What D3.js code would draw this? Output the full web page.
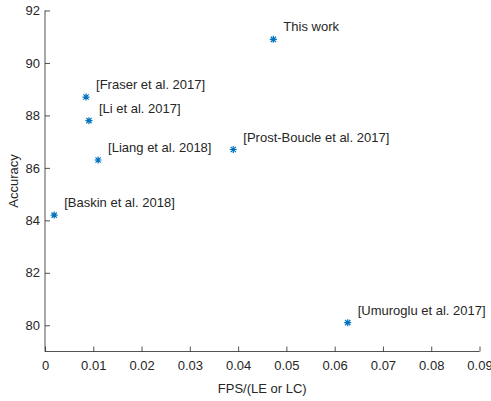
<!DOCTYPE html>
<html>
<head>
<meta charset="utf-8">
<script src="https://cdn.jsdelivr.net/npm/d3@7"></script>
<style>
  body { margin: 0; background: #fff; }
  text { font-family: "Liberation Sans", Arial, sans-serif; fill: #262626; }
  .axis path, .axis line { stroke: #262626; stroke-width: 0.8; }
  .axis text { font-size: 13px; }
  .lbl { font-size: 13px; }
</style>
</head>
<body>
<script>
const names = ['This work', '[Fraser et al. 2017]', '[Li et al. 2017]', '[Liang et al. 2018]',
  '[Prost-Boucle et al. 2017]', '[Baskin et al. 2018]', '[Umuroglu et al. 2017]'];
const fps = [0.0473, 0.0085, 0.0091, 0.0110, 0.0390, 0.0019, 0.0627];
const accuracy = [90.9, 88.7, 87.8, 86.3, 86.7, 84.2, 80.1];
const xTicks = [0, 0.01, 0.02, 0.03, 0.04, 0.05, 0.06, 0.07, 0.08, 0.09];
const yTicks = [80, 82, 84, 86, 88, 90, 92];

const W = 491, H = 401;
const svg = d3.select('body').append('svg').attr('width', W).attr('height', H);

const x = d3.scaleLinear().domain([0, 0.09]).range([45, 479.5]);
const y = d3.scaleLinear().domain([79, 92]).range([351.5, 10.5]);

svg.append('g')
  .attr('class', 'axis')
  .attr('transform', `translate(0,${y(79)})`)
  .call(d3.axisBottom(x).tickValues(xTicks).tickSize(-5).tickPadding(9)
    .tickFormat(d => d === 0 ? '0' : d3.format('.2f')(d)))
  .call(g => g.select('.domain').attr('d', `M${x(0)},0H${x(0.09)}`));

svg.append('g')
  .attr('class', 'axis')
  .attr('transform', `translate(${x(0)},0)`)
  .call(d3.axisLeft(y).tickValues(yTicks).tickSize(-5).tickPadding(5))
  .call(g => g.select('.domain').attr('d', `M0,${y(79)}V${y(92)}`));

svg.selectAll('.axis text').attr('fill', '#262626');

svg.append('text')
  .attr('x', (x(0) + x(0.09)) / 2)
  .attr('y', 393)
  .attr('text-anchor', 'middle')
  .style('font-size', '13px')
  .text('FPS/(LE or LC)');

svg.append('text')
  .attr('transform', `translate(18,${(y(79) + y(92)) / 2}) rotate(-90)`)
  .attr('text-anchor', 'middle')
  .style('font-size', '13px')
  .text('Accuracy');

const r = 3.5, rd = r * 0.75;
const star = `M${-r},0H${r}M0,${-r}V${r}M${-rd},${-rd}L${rd},${rd}M${-rd},${rd}L${rd},${-rd}`;

const pts = svg.selectAll('.pt')
  .data(names.map((n, i) => ({ name: n, fx: fps[i], acc: accuracy[i] })))
  .enter()
  .append('g')
  .attr('class', 'pt')
  .attr('transform', d => `translate(${x(d.fx)},${y(d.acc)})`);

pts.append('path')
  .attr('d', star)
  .attr('fill', 'none')
  .attr('stroke', '#0072BD')
  .attr('stroke-width', 1.2);

pts.append('text')
  .attr('class', 'lbl')
  .attr('x', 10)
  .attr('y', -8)
  .text(d => d.name);
</script>
</body>
</html>
